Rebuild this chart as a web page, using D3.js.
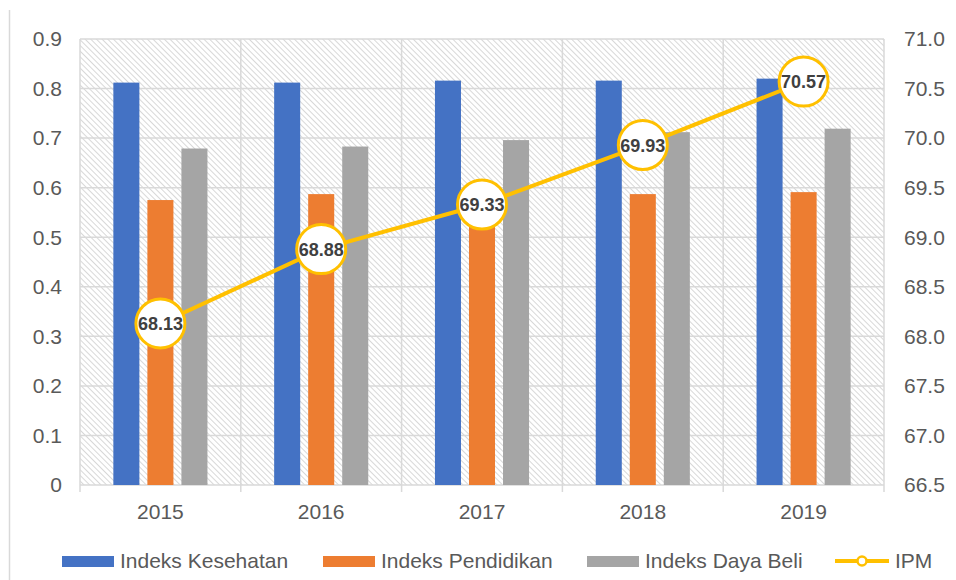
<!DOCTYPE html>
<html>
<head>
<meta charset="utf-8">
<script src="https://d3js.org/d3.v7.min.js"></script>
<style>
body { margin: 0; background: #fff; }
svg { display: block; font-family: "Liberation Sans", Arial, sans-serif; }
</style>
</head>
<body>
<script>
// data
var years = ["2015", "2016", "2017", "2018", "2019"];
var kesehatan = [0.812, 0.812, 0.816, 0.816, 0.820];
var pendidikan = [0.575, 0.587, 0.593, 0.587, 0.591];
var dayaBeli = [0.679, 0.683, 0.696, 0.712, 0.719];
var ipm = [68.13, 68.88, 69.33, 69.93, 70.57];
var leftTicks = [0, 0.1, 0.2, 0.3, 0.4, 0.5, 0.6, 0.7, 0.8, 0.9];
var rightTicks = [66.5, 67.0, 67.5, 68.0, 68.5, 69.0, 69.5, 70.0, 70.5, 71.0];

var seriesNames = ["Indeks Kesehatan", "Indeks Pendidikan", "Indeks Daya Beli"];
var seriesColors = ["#4472C4", "#ED7D31", "#A5A5A5"];
var seriesData = [kesehatan, pendidikan, dayaBeli];
var gold = "#FFC000";
var textCol = "#595959";

var W = 956, H = 580;
var plotL = 80, plotR = 884, plotT = 39, plotB = 485;

var svg = d3.select("body").append("svg")
    .attr("width", W)
    .attr("height", H);

// hatch pattern for the plot area
var defs = svg.append("defs");
var pat = defs.append("pattern")
    .attr("id", "hatch")
    .attr("patternUnits", "userSpaceOnUse")
    .attr("width", 4)
    .attr("height", 4)
    .attr("patternTransform", "rotate(-45)");
pat.append("rect").attr("width", 4).attr("height", 4).attr("fill", "#fff");
pat.append("line")
    .attr("x1", 0).attr("y1", 0).attr("x2", 0).attr("y2", 4)
    .attr("stroke", "#c4c4c4").attr("stroke-width", 1.3);

// outer chart border (left edge visible)
svg.append("line")
    .attr("x1", 9.5).attr("x2", 9.5).attr("y1", 10).attr("y2", H)
    .attr("stroke", "#d9d9d9").attr("stroke-width", 1.5);

var x = d3.scaleBand().domain(years).range([plotL, plotR]);
var xInner = d3.scaleBand().domain(seriesNames)
    .range([0, x.bandwidth()]).paddingInner(0.235).paddingOuter(0.98);
var y = d3.scaleLinear().domain([0, 0.9]).range([plotB, plotT]);
var y2 = d3.scaleLinear().domain([66.5, 71.0]).range([plotB, plotT]);

svg.append("rect")
    .attr("x", plotL).attr("y", plotT)
    .attr("width", plotR - plotL).attr("height", plotB - plotT)
    .attr("fill", "url(#hatch)");

// horizontal grid
svg.append("g").selectAll("line").data(leftTicks).join("line")
    .attr("x1", plotL).attr("x2", plotR)
    .attr("y1", function(d) { return y(d); }).attr("y2", function(d) { return y(d); })
    .attr("stroke", "#d9d9d9").attr("stroke-width", 1.5);

// vertical grid at category boundaries
var bounds = years.map(function(d) { return x(d); }).concat([plotR]);
svg.append("g").selectAll("line").data(bounds).join("line")
    .attr("x1", function(d) { return d; }).attr("x2", function(d) { return d; })
    .attr("y1", plotT).attr("y2", plotB + 7)
    .attr("stroke", "#d9d9d9").attr("stroke-width", 1.5);

// bars
seriesData.forEach(function(vals, si) {
    svg.append("g").selectAll("rect").data(vals).join("rect")
        .attr("x", function(d, i) { return x(years[i]) + xInner(seriesNames[si]); })
        .attr("y", function(d) { return y(d); })
        .attr("width", xInner.bandwidth())
        .attr("height", function(d) { return plotB - y(d); })
        .attr("fill", seriesColors[si]);
});

// left axis labels
svg.append("g").selectAll("text").data(leftTicks).join("text")
    .attr("x", 62).attr("y", function(d) { return y(d); })
    .attr("dy", "0.35em")
    .attr("text-anchor", "end")
    .attr("fill", textCol)
    .style("font-size", "21px")
    .text(function(d) { return d === 0 ? "0" : d3.format(".1f")(d); });

// right axis labels
svg.append("g").selectAll("text").data(rightTicks).join("text")
    .attr("x", 904).attr("y", function(d) { return y2(d); })
    .attr("dy", "0.35em")
    .attr("fill", textCol)
    .style("font-size", "21px")
    .text(function(d) { return d3.format(".1f")(d); });

// x labels
svg.append("g").selectAll("text").data(years).join("text")
    .attr("x", function(d) { return x(d) + x.bandwidth() / 2; })
    .attr("y", 519)
    .attr("text-anchor", "middle")
    .attr("fill", textCol)
    .style("font-size", "21px")
    .text(function(d) { return d; });

// IPM line
var line = d3.line()
    .x(function(d, i) { return x(years[i]) + x.bandwidth() / 2; })
    .y(function(d) { return y2(d); });
svg.append("path")
    .datum(ipm)
    .attr("d", line)
    .attr("fill", "none")
    .attr("stroke", gold)
    .attr("stroke-width", 4);

var pts = svg.append("g").selectAll("g").data(ipm).join("g")
    .attr("transform", function(d, i) {
        return "translate(" + (x(years[i]) + x.bandwidth() / 2) + "," + y2(d) + ")";
    });
pts.append("circle")
    .attr("r", 24.5)
    .attr("fill", "#fff")
    .attr("stroke", gold)
    .attr("stroke-width", 3);
pts.append("text")
    .attr("text-anchor", "middle")
    .attr("dy", "0.36em")
    .attr("fill", "#404040")
    .style("font-size", "18px")
    .style("font-weight", "bold")
    .text(function(d) { return d3.format(".2f")(d); });

// legend
var legY = 561;
var legX = [62, 323, 587];
seriesNames.forEach(function(n, i) {
    svg.append("rect")
        .attr("x", legX[i]).attr("y", legY - 5)
        .attr("width", 52).attr("height", 11)
        .attr("fill", seriesColors[i]);
    svg.append("text")
        .attr("x", legX[i] + 58).attr("y", legY)
        .attr("dy", "0.35em")
        .attr("fill", textCol)
        .style("font-size", "21px")
        .text(n);
});
svg.append("line")
    .attr("x1", 835).attr("x2", 889).attr("y1", legY).attr("y2", legY)
    .attr("stroke", gold).attr("stroke-width", 4);
svg.append("circle")
    .attr("cx", 862).attr("cy", legY).attr("r", 4.5)
    .attr("fill", "#fff").attr("stroke", gold).attr("stroke-width", 2.5);
svg.append("text")
    .attr("x", 895).attr("y", legY)
    .attr("dy", "0.35em")
    .attr("fill", textCol)
    .style("font-size", "21px")
    .text("IPM");
</script>
</body>
</html>
